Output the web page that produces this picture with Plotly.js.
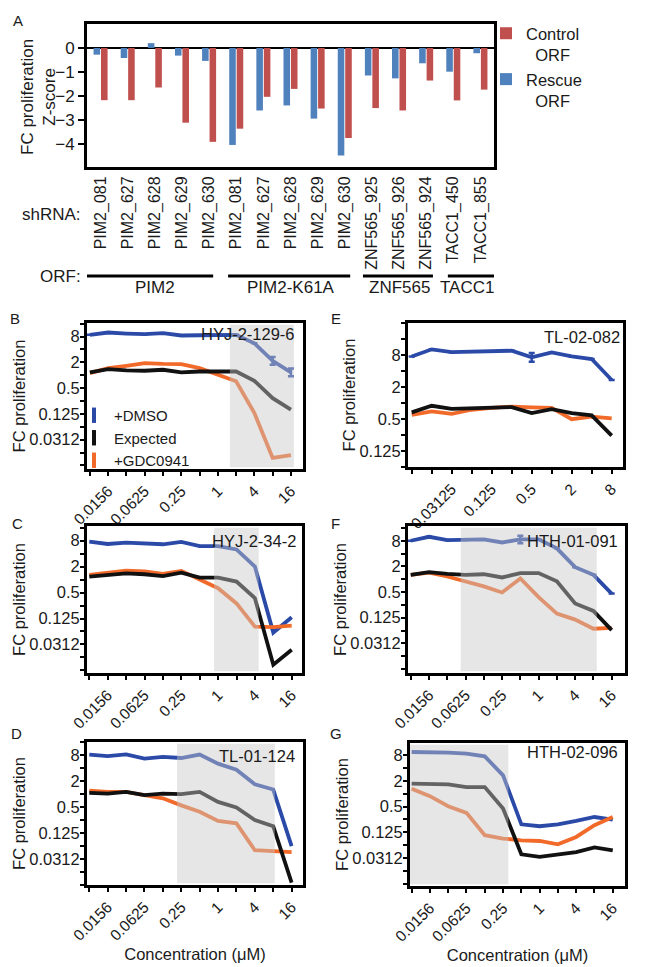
<!DOCTYPE html>
<html><head><meta charset="utf-8">
<script src="https://cdn.plot.ly/plotly-3.0.1.min.js"></script>
<style>html,body{margin:0;padding:0;background:#fff}#chart{width:666px;height:967px}</style>
</head><body><div id="chart"></div>
<script>
// ---------------- Panel A data ----------------
const shRNA = ['PIM2_081','PIM2_627','PIM2_628','PIM2_629','PIM2_630',
               'PIM2_081','PIM2_627','PIM2_628','PIM2_629','PIM2_630',
               'ZNF565_925','ZNF565_926','ZNF565_924','TACC1_450','TACC1_855'];
const orfGroups = ['PIM2','PIM2-K61A','ZNF565','TACC1'];
const orfGroupSizes = [5,5,3,2];
const rescueZ  = [-0.28,-0.42, 0.20,-0.32,-0.54,-4.05,-2.61,-2.40,-2.95,-4.49,-1.15,-1.27,-0.64,-0.99,-0.22];
const controlZ = [-2.18,-2.18,-1.65,-3.12,-3.92,-3.37,-2.04,-1.71,-2.53,-3.76,-2.51,-2.61,-1.36,-2.19,-1.74];
const zTicks = [0,-1,-2,-3,-4];

// ---------------- Panels B-G data ----------------
const conc  = [0.0078125,0.015625,0.03125,0.0625,0.125,0.25,0.5,1,2,4,8,16];
const concE = [0.0078125,0.015625,0.03125,0.0625,0.125,0.25,0.5,1,2,4,8];
const concTickText  = ['','0.0156','','0.0625','','0.25','','1','','4','','16'];
const concTickTextE = ['','','0.03125','','0.125','','0.5','','2','','8'];
const fcTickVals  = [32,16,8,4,2,1,0.5,0.25,0.125,0.0625,0.03125,0.015625,0.0078125];
const fcTickText  = ['','','8','','2','','0.5','','0.125','','0.0312','',''];
const fcTickTextE = ['','','8','','2','','0.5','','0.125','','','',''];
const seriesNames = ['+DMSO','Expected','+GDC0941'];

const dmsoB     = [8.75,9.92,9.38,9.06,9.58,8.46,8.57,8.57,8.75,5.58,2.17,1.16];
const dmsoBErrUp   = [0,0,0,0,0,0,0,0,0,0,0.50,0.27];
const dmsoBErrDown = [0,0,0,0,0,0,0,0,0,0,0.41,0.22];
const expectedB = [1.16,1.39,1.29,1.27,1.34,1.16,1.22,1.22,1.22,0.74,0.29,0.156];
const gdcB      = [1.12,1.46,1.66,1.92,1.84,1.82,1.46,1.02,0.72,0.13,0.0117,0.0135];

const dmsoC     = [7.6,6.7,7.2,6.9,6.6,7.5,6.0,6.0,5.0,2.0,0.059,0.134];
const expectedC = [1.17,1.28,1.40,1.33,1.21,1.45,1.11,1.11,0.90,0.37,0.0106,0.0235];
const gdcC      = [1.28,1.47,1.61,1.54,1.36,1.59,0.98,0.63,0.28,0.081,0.079,0.085];

const dmsoD     = [8.3,7.6,8.4,6.7,7.3,6.9,8.3,5.1,3.7,1.7,1.28,0.0625];
const expectedD = [1.07,1.03,1.13,0.95,1.03,1.0,1.13,0.66,0.49,0.25,0.18,0.0089];
const gdcD      = [1.2,1.13,1.13,0.95,0.8,0.55,0.39,0.24,0.21,0.05,0.048,0.045];

const dmsoE     = [7.5,10.2,9.0,9.3,9.4,9.6,7.2,8.9,7.5,6.7,2.7];
const dmsoEErrUp   = [0,0,0,0,0,0,1.54,0,0,0,0];
const dmsoEErrDown = [0,0,0,0,0,0,1.27,0,0,0,0];
const expectedE = [0.66,0.88,0.77,0.80,0.81,0.83,0.64,0.76,0.64,0.58,0.24];
const gdcE      = [0.59,0.69,0.62,0.74,0.80,0.85,0.82,0.80,0.49,0.55,0.51];

const dmsoF     = [8.0,9.9,8.3,8.3,8.6,7.3,8.6,8.6,5.3,1.92,1.27,0.46];
const dmsoFErrUp   = [0,0,0,0,0,0,1.92,0,0,0,0,0];
const dmsoFErrDown = [0,0,0,0,0,0,1.57,0,0,0,0,0];
const expectedF = [1.27,1.46,1.34,1.27,1.31,1.10,1.39,1.39,0.89,0.27,0.18,0.064];
const gdcF      = [1.27,1.43,1.16,0.89,0.68,0.49,1.04,0.38,0.156,0.113,0.069,0.072];

const dmsoG     = [9.58,9.58,9.25,8.75,7.57,2.71,0.192,0.173,0.192,0.23,0.285,0.248];
const expectedG = [1.73,1.73,1.67,1.44,1.44,0.45,0.038,0.033,0.037,0.043,0.055,0.047];
const gdcG      = [1.32,0.88,0.51,0.356,0.107,0.089,0.081,0.078,0.065,0.097,0.183,0.285];

// shaded concentration windows (µM)
const shadeB = [1.58,17.9];
const shadeC = [0.86,4.6];
const shadeD = [0.213,8.5];
const shadeF = [0.052,9.1];
const shadeG = [0.0073,0.306];

// ---------------- styling / layout ----------------
const W = 666, H = 967, L2 = Math.log10(2);
const FONT = 'Liberation Sans, Arial, sans-serif';
const TXT = '#1a1a1a';
const BLUE = '#2b4aa8', ORANGE = '#f26a2a', BLACK = '#111111';
const px = v => v / W, py = v => 1 - v / H;

const traces = [];
const layout = {
  width: W, height: H, margin: {l:0,r:0,t:0,b:0},
  paper_bgcolor: '#fff', plot_bgcolor: 'rgba(0,0,0,0)',
  font: {family: FONT, size: 16, color: TXT},
  barmode: 'group', bargap: 0.45, bargroupgap: 0.12,
  showlegend: true, shapes: [], annotations: []
};

// Panel A
const idx = shRNA.map((_, i) => i);
traces.push({type:'bar', x: idx, y: rescueZ, name: 'Rescue<br>&nbsp;&nbsp;ORF',
  marker:{color:'#4f81bd'}, xaxis:'x', yaxis:'y', legend:'legend', hoverinfo:'skip'});
traces.push({type:'bar', x: idx, y: controlZ, name: 'Control<br>&nbsp;&nbsp;ORF',
  marker:{color:'#c0504d'}, xaxis:'x', yaxis:'y', legend:'legend', hoverinfo:'skip'});
layout.xaxis = {domain:[px(87), px(494)], anchor:'y', range:[-0.5, 14.5],
  tickmode:'array', tickvals: idx, ticktext: shRNA, tickangle: -90, ticks:'',
  showline:true, mirror:true, linecolor:'#000', linewidth:3, showgrid:false, zeroline:false,
  tickfont:{size:16}};
layout.yaxis = {domain:[py(167), py(24)], anchor:'x', range:[-4.97, 1.0],
  tickmode:'array', tickvals: zTicks, ticks:'outside', ticklen:6, tickwidth:2, tickcolor:'#000',
  showline:true, mirror:true, linecolor:'#000', linewidth:3, showgrid:false,
  zeroline:true, zerolinecolor:'#000', zerolinewidth:2.5, tickfont:{size:17}};
layout.annotations.push({xref:'paper', yref:'paper', x:px(38), y:py(97), textangle:-90,
  text:'FC proliferation<br>Z-score', showarrow:false, xanchor:'center', yanchor:'middle',
  align:'center', font:{size:17}});
layout.legend = {x: px(486), y: py(16), xanchor:'left', yanchor:'top', valign:'top',
  traceorder:'reversed', bgcolor:'rgba(0,0,0,0)', font:{size:16.5}, itemwidth:30};

// ORF group lines + labels
let s = 0;
const orfPad = [[1.13,0.15],[0.3,0.2],[0.33,0.25],[0.2,0.6]];
orfGroups.forEach((g, k) => {
  const e = s + orfGroupSizes[k] - 1;
  layout.shapes.push({type:'line', xref:'x', yref:'paper', x0: s - orfPad[k][0], x1: e + orfPad[k][1],
    y0: py(276), y1: py(276), line:{color:'#000', width:3}});
  layout.annotations.push({xref:'x', yref:'paper', x:(s+e)/2, y: py(288), text: g, showarrow:false,
    font:{size:17}, xanchor:'center', yanchor:'middle'});
  s = e + 1;
});
layout.annotations.push({xref:'paper', yref:'paper', x:px(83), y:py(215), text:'shRNA:', showarrow:false,
  xanchor:'right', yanchor:'middle', font:{size:17}});
layout.annotations.push({xref:'paper', yref:'paper', x:px(83), y:py(277), text:'ORF:', showarrow:false,
  xanchor:'right', yanchor:'middle', font:{size:17}});

// Panels B-G
const panels = [
  {n:2, letter:'B', name:'HYJ-2-129-6', box:[87,303,323,469], xr:[-7.16,4.66], yr:[-7.28,4.05],
   x:conc, d:[dmsoB,expectedB,gdcB], err:[dmsoBErrUp,dmsoBErrDown], shade:shadeB, lab:[297,334], letterPos:[15,318]},
  {n:3, letter:'C', name:'HYJ-2-34-2', box:[87,302,526,673], xr:[-7.125,4.56], yr:[-7.2,4.13],
   x:conc, d:[dmsoC,expectedC,gdcC], shade:shadeC, lab:[298,541], letterPos:[17,523]},
  {n:4, letter:'D', name:'TL-01-124', box:[87,303,742,885], xr:[-7.125,4.62], yr:[-7.0,4.02],
   x:conc, d:[dmsoD,expectedD,gdcD], shade:shadeD, lab:[297,756], letterPos:[16,733], xtitle:true},
  {n:5, letter:'E', name:'TL-02-082', box:[408,623,323,467], xr:[-7.185,3.565], yr:[-4.02,5.0],
   x:concE, d:[dmsoE,expectedE,gdcE], err:[dmsoEErrUp,dmsoEErrDown], shade:null, lab:[622,337], letterPos:[336,318], E:true},
  {n:6, letter:'F', name:'HTH-01-091', box:[408,625,526,673], xr:[-7.15,4.73], yr:[-7.31,4.15],
   x:conc, d:[dmsoF,expectedF,gdcF], err:[dmsoFErrUp,dmsoFErrDown], shade:shadeF, lab:[620,541], letterPos:[335,523]},
  {n:7, letter:'G', name:'HTH-02-096', box:[410,625,743,886], xr:[-7.09,4.67], yr:[-7.19,3.96],
   x:conc, d:[dmsoG,expectedG,gdcG], shade:shadeG, lab:[620,752], letterPos:[336,733], xtitle:true}
];
const colors = [BLUE, BLACK, ORANGE];
const drawOrder = [0, 2, 1];

panels.forEach(p => {
  const xa = 'x' + p.n, ya = 'y' + p.n;
  const [l, r, t, b] = p.box;
  layout['xaxis' + p.n] = {domain:[px(l), px(r)], anchor: ya, type:'log',
    range:[p.xr[0]*L2, p.xr[1]*L2], tickmode:'array', tickvals: p.x,
    ticktext: p.E ? concTickTextE : concTickText, tickangle:-45,
    ticks:'outside', ticklen:4, tickwidth:2, tickcolor:'#000',
    showline:true, mirror:true, linecolor:'#000', linewidth:3, showgrid:false, zeroline:false,
    tickfont:{size:15.5},
    title: p.xtitle ? {text:'Concentration (μM)', font:{size:16.5}, standoff:6} : {text:''}};
  layout['yaxis' + p.n] = {domain:[py(b), py(t)], anchor: xa, type:'log',
    range:[p.yr[0]*L2, p.yr[1]*L2], tickmode:'array', tickvals: fcTickVals,
    ticktext: p.E ? fcTickTextE : fcTickText,
    ticks:'outside', ticklen:4, tickwidth:2, tickcolor:'#000', ticklabelstandoff:-3,
    showline:true, mirror:true, linecolor:'#000', linewidth:3, showgrid:false, zeroline:false,
    tickfont:{size:16.5}, title:{text:'FC proliferation', font:{size:16.5}, standoff:0}};
  drawOrder.forEach(k => {
    const tr = {type:'scatter', mode:'lines', x: p.x, y: p.d[k], xaxis: xa, yaxis: ya,
      name: seriesNames[k], showlegend:false, hoverinfo:'skip',
      line:{color: colors[k], width:3.8}};
    if (k === 0 && p.err) {
      tr.error_y = {type:'data', symmetric:false, array: p.err[0], arrayminus: p.err[1],
        color: colors[k], thickness:2.5, width:3};
    }
    traces.push(tr);
  });
  if (p.shade) {
    layout.shapes.push({type:'rect', layer:'above', xref: xa, yref: ya + ' domain',
      x0: p.shade[0], x1: p.shade[1], y0: 0.012, y1: 0.988,
      fillcolor:'rgba(200,200,200,0.45)', line:{width:0}});
  }
  layout.annotations.push({xref:'paper', yref:'paper', x: px(p.lab[0]), y: py(p.lab[1]),
    text: p.name, showarrow:false, xanchor:'right', yanchor:'middle', font:{size:16.5}});
  layout.annotations.push({xref:'paper', yref:'paper', x: px(p.letterPos[0]), y: py(p.letterPos[1]),
    text: p.letter, showarrow:false, xanchor:'center', yanchor:'middle', font:{size:15}});
});
layout.annotations.push({xref:'paper', yref:'paper', x: px(18), y: py(20),
  text:'A', showarrow:false, xanchor:'center', yanchor:'middle', font:{size:15}});

// legend for panel B (series key)
seriesNames.forEach((nm, k) => {
  traces.push({type:'scatter', mode:'markers', x:[null], y:[null], xaxis:'x2', yaxis:'y2',
    name: nm, legend:'legend2', hoverinfo:'skip',
    marker:{symbol:'line-ns', size:11, color: colors[k], line:{width:4, color: colors[k]}}});
});
layout.legend2 = {x: px(74), y: py(399), xanchor:'left', yanchor:'top',
  bgcolor:'rgba(0,0,0,0)', font:{size:15}, itemwidth:30, tracegroupgap:0};

Plotly.newPlot('chart', traces, layout, {staticPlot:true, displayModeBar:false});
</script>
</body></html>
